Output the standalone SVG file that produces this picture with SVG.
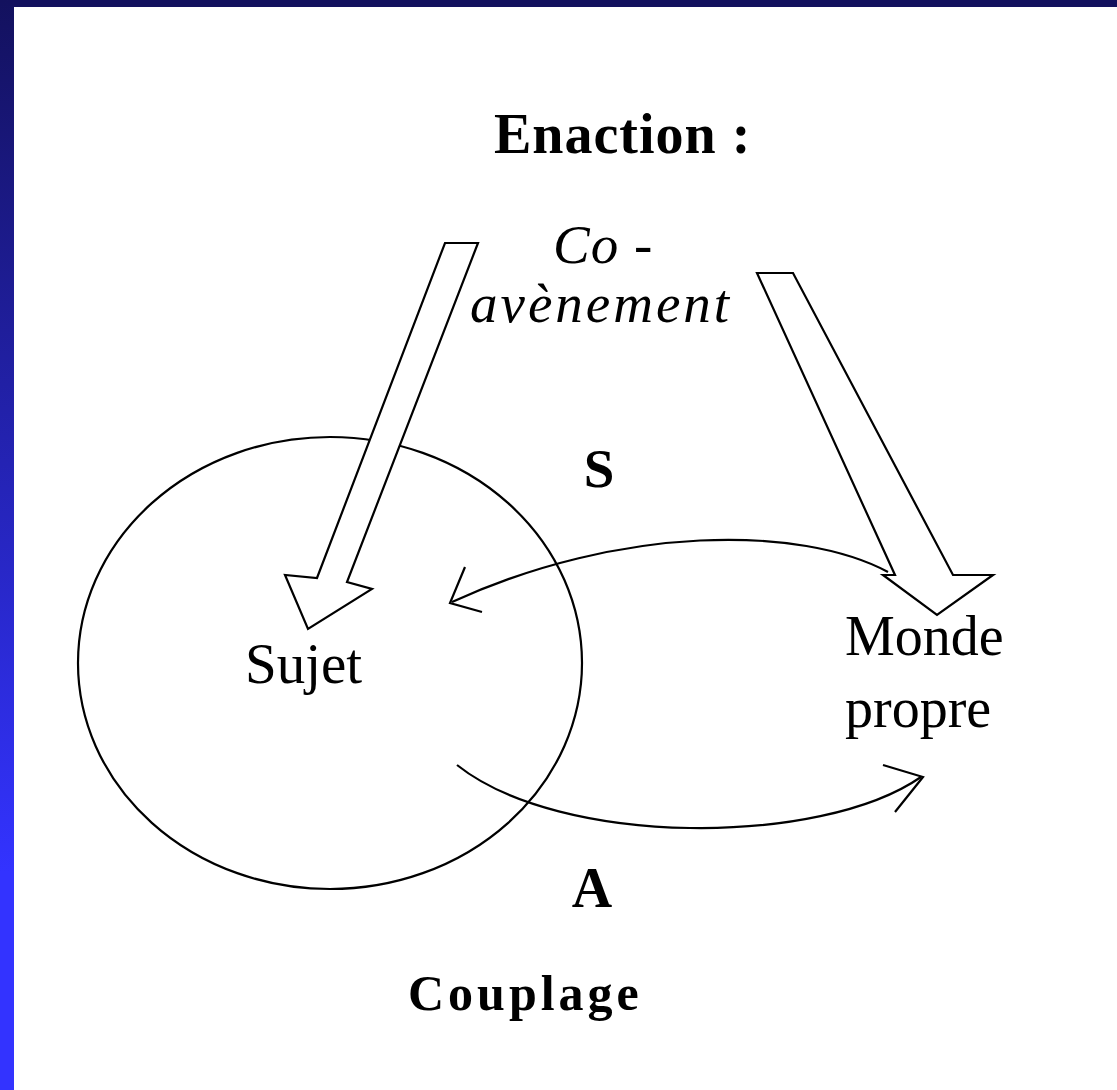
<svg xmlns="http://www.w3.org/2000/svg" width="1117" height="1090" viewBox="0 0 1117 1090">
<style>
.ln{fill:none;stroke:#000;stroke-width:2.2;stroke-linejoin:miter}
.blk{fill:#fff;stroke:#000;stroke-width:2.2}
.t{font-family:"Liberation Serif","Times New Roman",serif;fill:#000}
.b{font-weight:bold}
.i{font-style:italic}
</style>
<defs>
<linearGradient id="side" x1="0" y1="0" x2="0" y2="1090" gradientUnits="userSpaceOnUse">
<stop offset="0" stop-color="#13115e"/>
<stop offset="0.8" stop-color="#3333ff"/>
<stop offset="1" stop-color="#3333ff"/>
</linearGradient>
</defs>
<rect x="0" y="0" width="1117" height="1090" fill="#fff"/>
<rect x="0" y="0" width="1117" height="7" fill="#13115e"/>
<rect x="0" y="0" width="14" height="1090" fill="url(#side)"/>

<g id="sujet">
<ellipse cx="330" cy="663" rx="252" ry="226" class="ln"/>
<text class="t" x="245" y="683" font-size="57">Sujet</text>
</g>

<g id="connectors">
<g id="arrow-left">
<polygon class="blk" points="445,243 478,243 347,582 372,589 308,629 285,575 317,578"/>
</g>
<g id="arrow-right">
<polygon class="blk" points="757,273 793,273 953,575 993,575 937,615 883,575 895,575"/>
</g>
<g id="arrow-S">
<path class="ln" d="M888,572 C800,525 620,525 452,602"/>
<path class="ln" d="M465,567 L450,603 L482,612"/>
</g>
<g id="arrow-A">
<path class="ln" d="M457,765 C560,847 820,847 921,777"/>
<path class="ln" d="M883,765 L923,777 L895,812"/>
</g>
</g>

<g id="title">
<text class="t b" x="494" y="153" font-size="56" letter-spacing="1">Enaction :</text>
</g>
<g id="co-avenement">
<text class="t i" x="553" y="263" font-size="55" letter-spacing="1">Co -</text>
<text class="t i" x="470" y="322" font-size="55" letter-spacing="3">avènement</text>
</g>
<g id="monde">
<text class="t" x="845" y="655" font-size="56">Monde</text>
<text class="t" x="845" y="727" font-size="56">propre</text>
</g>
<g id="label-S">
<text class="t b" x="599" y="487" font-size="55" text-anchor="middle">S</text>
</g>
<g id="label-A">
<text class="t b" x="592" y="907" font-size="56" text-anchor="middle">A</text>
</g>
<g id="couplage">
<text class="t b" x="408" y="1010" font-size="50" letter-spacing="4">Couplage</text>
</g>
</svg>
